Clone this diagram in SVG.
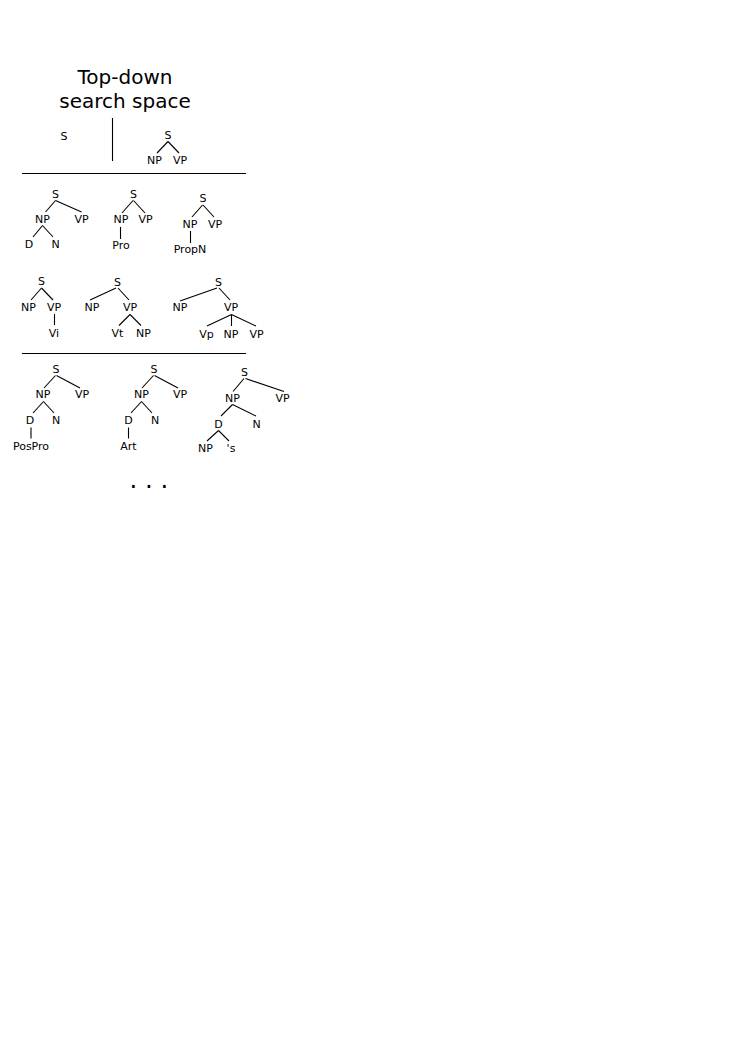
<svg xmlns="http://www.w3.org/2000/svg" width="744" height="1053" viewBox="0 0 744 1053">
<style>
text{font-family:"DejaVu Sans","Liberation Sans",sans-serif;fill:#000}
.t{font-size:20px;text-anchor:middle}
.n{font-size:11px;text-anchor:middle}
.dots{font-size:24.4px;text-anchor:middle}
line{stroke:#000;stroke-width:1.1;fill:none}
</style>
<rect width="744" height="1053" fill="#fff"/>
<g id="title">
<text class="t" x="125" y="84">Top-down</text>
<text class="t" x="125" y="108">search space</text>
</g>
<g id="separators">
<line x1="112.5" y1="118" x2="112.5" y2="161"/>
<line x1="22" y1="173.5" x2="246" y2="173.5"/>
<line x1="22" y1="353.5" x2="246" y2="353.5"/>
</g>
<g id="tree0">
<text class="n" x="64" y="140">S</text>
</g>
<g id="tree1">
<text class="n" x="168" y="139">S</text>
<text class="n" x="154.5" y="164">NP</text>
<text class="n" x="180" y="164">VP</text>
<g class="edges"><line x1="168" y1="141.5" x2="157" y2="153"/><line x1="168" y1="141.5" x2="179" y2="153"/></g>
</g>
<g id="tree2">
<text class="n" x="55.5" y="197.5">S</text>
<text class="n" x="42.5" y="223">NP</text>
<text class="n" x="81.5" y="223">VP</text>
<text class="n" x="29" y="248">D</text>
<text class="n" x="55.5" y="248">N</text>
<g class="edges"><line x1="55.5" y1="200.5" x2="45.5" y2="212"/><line x1="55.5" y1="200.5" x2="81.5" y2="212"/><line x1="42.5" y1="225.5" x2="33" y2="237"/><line x1="42.5" y1="225.5" x2="53" y2="237"/></g>
</g>
<g id="tree3">
<text class="n" x="133.5" y="197.5">S</text>
<text class="n" x="121" y="223">NP</text>
<text class="n" x="145.5" y="223">VP</text>
<text class="n" x="121" y="248.5">Pro</text>
<g class="edges"><line x1="133" y1="200.5" x2="122" y2="213"/><line x1="133.5" y1="200.5" x2="145" y2="213"/><line x1="120.5" y1="227" x2="120.5" y2="239"/></g>
</g>
<g id="tree4">
<text class="n" x="203" y="202">S</text>
<text class="n" x="190" y="227.5">NP</text>
<text class="n" x="215" y="227.5">VP</text>
<text class="n" x="190" y="253">PropN</text>
<g class="edges"><line x1="202.5" y1="205" x2="192" y2="217"/><line x1="203" y1="205" x2="214" y2="217"/><line x1="190.5" y1="231" x2="190.5" y2="243"/></g>
</g>
<g id="tree5">
<text class="n" x="41.5" y="285">S</text>
<text class="n" x="28.5" y="311">NP</text>
<text class="n" x="54" y="311">VP</text>
<text class="n" x="54" y="336.5">Vi</text>
<g class="edges"><line x1="41.5" y1="288" x2="31" y2="300"/><line x1="41.5" y1="288" x2="53" y2="300"/><line x1="54.5" y1="314" x2="54.5" y2="325"/></g>
</g>
<g id="tree6">
<text class="n" x="117.5" y="285.5">S</text>
<text class="n" x="92" y="311">NP</text>
<text class="n" x="130" y="311">VP</text>
<text class="n" x="117.5" y="336.5">Vt</text>
<text class="n" x="143.5" y="336.5">NP</text>
<g class="edges"><line x1="116" y1="288" x2="90" y2="300"/><line x1="118" y1="288" x2="129" y2="300"/><line x1="130" y1="314.5" x2="119" y2="325.5"/><line x1="130" y1="314.5" x2="141" y2="325.5"/></g>
</g>
<g id="tree7">
<text class="n" x="218.5" y="285.5">S</text>
<text class="n" x="180" y="311">NP</text>
<text class="n" x="231" y="311">VP</text>
<text class="n" x="206.5" y="337.5">Vp</text>
<text class="n" x="231" y="337.5">NP</text>
<text class="n" x="256.5" y="337.5">VP</text>
<g class="edges"><line x1="217" y1="288" x2="180" y2="301"/><line x1="219" y1="288" x2="230" y2="300"/><line x1="231.5" y1="314.5" x2="207" y2="326"/><line x1="231.5" y1="314.5" x2="231.5" y2="326"/><line x1="231.5" y1="314.5" x2="256" y2="326"/></g>
</g>
<g id="tree8">
<text class="n" x="56" y="372.5">S</text>
<text class="n" x="43" y="398">NP</text>
<text class="n" x="82" y="398">VP</text>
<text class="n" x="30" y="423.5">D</text>
<text class="n" x="56" y="423.5">N</text>
<text class="n" x="31" y="449.5">PosPro</text>
<g class="edges"><line x1="55.5" y1="375.5" x2="44" y2="388"/><line x1="56.5" y1="375.5" x2="80" y2="388"/><line x1="43.5" y1="401.5" x2="33" y2="413"/><line x1="43.5" y1="401.5" x2="54" y2="413"/><line x1="31" y1="427.5" x2="31" y2="438.5"/></g>
</g>
<g id="tree9">
<text class="n" x="154" y="372.5">S</text>
<text class="n" x="141.5" y="398">NP</text>
<text class="n" x="180" y="398">VP</text>
<text class="n" x="128.5" y="423.5">D</text>
<text class="n" x="155" y="423.5">N</text>
<text class="n" x="128.5" y="449.5">Art</text>
<g class="edges"><line x1="153.5" y1="375.5" x2="142" y2="388"/><line x1="154.5" y1="375.5" x2="178" y2="388"/><line x1="141.5" y1="401.5" x2="131" y2="413"/><line x1="141.5" y1="401.5" x2="152" y2="413"/><line x1="128.5" y1="427.5" x2="128.5" y2="438.5"/></g>
</g>
<g id="tree10">
<text class="n" x="244.5" y="375.5">S</text>
<text class="n" x="232.5" y="401.5">NP</text>
<text class="n" x="282.5" y="401.5">VP</text>
<text class="n" x="218.5" y="427.5">D</text>
<text class="n" x="256.5" y="427.5">N</text>
<text class="n" x="205.5" y="452">NP</text>
<text class="n" x="231" y="452">'s</text>
<g class="edges"><line x1="244" y1="378.5" x2="233" y2="391.5"/><line x1="245.5" y1="378.5" x2="284" y2="391.5"/><line x1="232.5" y1="404.5" x2="221" y2="416"/><line x1="232.5" y1="404.5" x2="256" y2="416"/><line x1="218.5" y1="430.5" x2="207" y2="441"/><line x1="218.5" y1="430.5" x2="229" y2="441"/></g>
</g>
<g id="ellipsis">
<text class="dots" x="149" y="487.5">. . .</text>
</g>
</svg>
